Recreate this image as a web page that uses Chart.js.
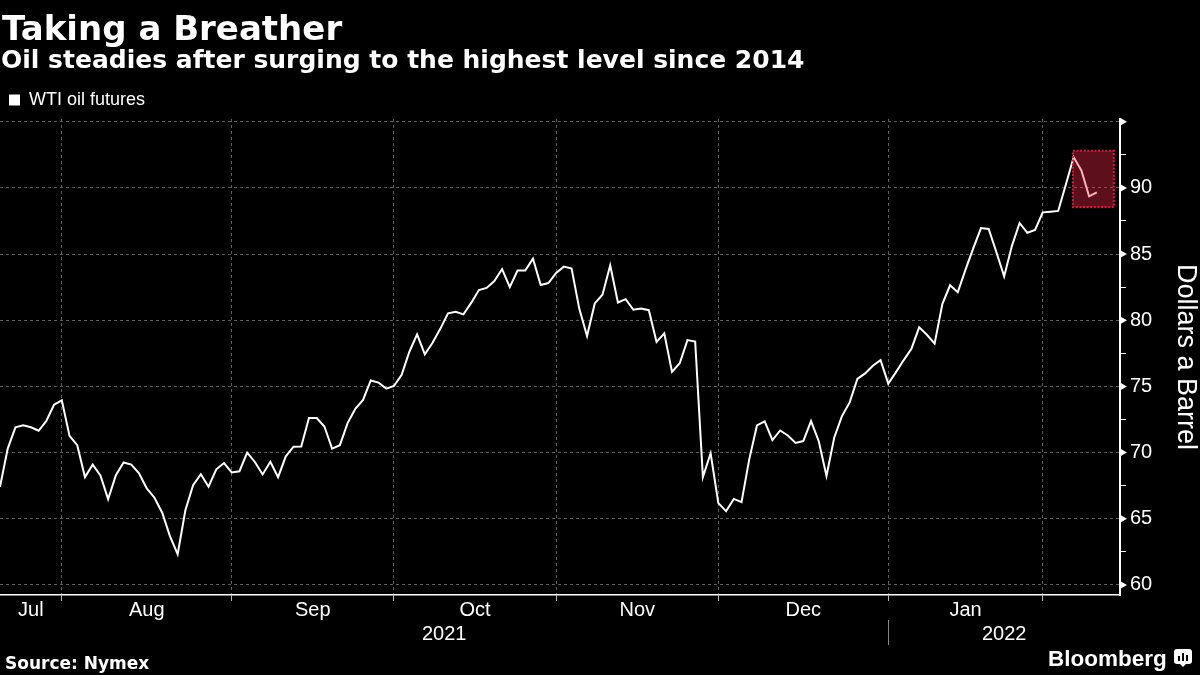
<!DOCTYPE html>
<html>
<head>
<meta charset="utf-8">
<script src="https://cdn.jsdelivr.net/npm/chart.js@4.4.1/dist/chart.umd.min.js"></script>
<style>
    html, body { margin: 0; padding: 0; background: #000; }
    #wrap { position: relative; width: 1200px; height: 675px; overflow: hidden; background: #000; }
    #chart { position: absolute; left: 0; top: 0; }
    .txt { position: absolute; color: #fff; white-space: nowrap; line-height: 1; }
    #title { left: 2px; top: 8px; font: bold 34px "DejaVu Sans", sans-serif; }
    #subtitle { left: 1px; top: 45px; font: bold 25px "DejaVu Sans", sans-serif; }
    #source { left: 5px; top: 653px; font: bold 17px "DejaVu Sans", sans-serif; }
    #brand { left: 1048px; top: 646px; font: bold 22.5px "Liberation Sans", Arial, sans-serif; }
    #logo { position: absolute; left: 1174px; top: 649px; width: 18px; height: 15px; background: #fff; border-radius: 3px; }
    #logo span { position: absolute; bottom: 3px; width: 2px; background: #000; }
    #logo:after { content: ""; position: absolute; left: 6px; top: 15px; border-left: 3px solid transparent; border-right: 3px solid transparent; border-top: 3px solid #fff; }
</style>
</head>
<body>
<div id="wrap">
    <canvas id="chart" width="1200" height="675"></canvas>
    <div class="txt" id="title">Taking a Breather</div>
    <div class="txt" id="subtitle">Oil steadies after surging to the highest level since 2014</div>
    <div class="txt" id="source">Source: Nymex</div>
    <div class="txt" id="brand">Bloomberg</div>
    <div id="logo"><span style="left:4px;height:5px"></span><span style="left:8px;height:8px"></span><span style="left:12px;height:6px"></span></div>
</div>
<script>
// WTI front-month settlements, trading days Jul 20 2021 - Feb 9 2022
const dates = [
    "2021-07-20", "2021-07-21", "2021-07-22", "2021-07-23", "2021-07-26", "2021-07-27", "2021-07-28", "2021-07-29", "2021-07-30",
    "2021-08-02", "2021-08-03", "2021-08-04", "2021-08-05", "2021-08-06", "2021-08-09", "2021-08-10", "2021-08-11", "2021-08-12",
    "2021-08-13", "2021-08-16", "2021-08-17", "2021-08-18", "2021-08-19", "2021-08-20", "2021-08-23", "2021-08-24", "2021-08-25",
    "2021-08-26", "2021-08-27", "2021-08-30", "2021-08-31",
    "2021-09-01", "2021-09-02", "2021-09-03", "2021-09-07", "2021-09-08", "2021-09-09", "2021-09-10", "2021-09-13", "2021-09-14",
    "2021-09-15", "2021-09-16", "2021-09-17", "2021-09-20", "2021-09-21", "2021-09-22", "2021-09-23", "2021-09-24", "2021-09-27",
    "2021-09-28", "2021-09-29", "2021-09-30",
    "2021-10-01", "2021-10-04", "2021-10-05", "2021-10-06", "2021-10-07", "2021-10-08", "2021-10-11", "2021-10-12", "2021-10-13",
    "2021-10-14", "2021-10-15", "2021-10-18", "2021-10-19", "2021-10-20", "2021-10-21", "2021-10-22", "2021-10-25", "2021-10-26",
    "2021-10-27", "2021-10-28", "2021-10-29",
    "2021-11-01", "2021-11-02", "2021-11-03", "2021-11-04", "2021-11-05", "2021-11-08", "2021-11-09", "2021-11-10", "2021-11-11",
    "2021-11-12", "2021-11-15", "2021-11-16", "2021-11-17", "2021-11-18", "2021-11-19", "2021-11-22", "2021-11-23", "2021-11-24",
    "2021-11-26", "2021-11-29", "2021-11-30",
    "2021-12-01", "2021-12-02", "2021-12-03", "2021-12-06", "2021-12-07", "2021-12-08", "2021-12-09", "2021-12-10", "2021-12-13",
    "2021-12-14", "2021-12-15", "2021-12-16", "2021-12-17", "2021-12-20", "2021-12-21", "2021-12-22", "2021-12-23", "2021-12-27",
    "2021-12-28", "2021-12-29", "2021-12-30", "2021-12-31",
    "2022-01-03", "2022-01-04", "2022-01-05", "2022-01-06", "2022-01-07", "2022-01-10", "2022-01-11", "2022-01-12", "2022-01-13",
    "2022-01-14", "2022-01-18", "2022-01-19", "2022-01-20", "2022-01-21", "2022-01-24", "2022-01-25", "2022-01-26", "2022-01-27",
    "2022-01-28", "2022-01-31",
    "2022-02-01", "2022-02-02", "2022-02-03", "2022-02-04", "2022-02-07", "2022-02-08", "2022-02-09",
];

const wtiFutures = [
    67.42, 70.30, 71.91, 72.07, 71.91, 71.65, 72.39, 73.62, 73.95,
    71.26, 70.56, 68.15, 69.09, 68.28, 66.48, 68.29, 69.25, 69.09, 68.44, 67.29, 66.59, 65.46, 63.69, 62.32,
    65.64, 67.54, 68.36, 67.42, 68.74, 69.21, 68.50,
    68.59, 69.99, 69.29, 68.35, 69.30, 68.14, 69.72, 70.45, 70.46, 72.61, 72.61, 71.97, 70.29, 70.56, 72.23,
    73.30, 73.98, 75.45, 75.29, 74.83, 75.03,
    75.88, 77.62, 78.93, 77.43, 78.30, 79.35, 80.52, 80.64, 80.44, 81.31, 82.28, 82.44, 82.96, 83.87, 82.50,
    83.76, 83.76, 84.65, 82.66, 82.81, 83.57,
    84.05, 83.91, 80.86, 78.81, 81.27, 81.93, 84.15, 81.34, 81.59, 80.79, 80.88, 80.76, 78.36, 79.01, 76.10,
    76.75, 78.50, 78.39, 68.15, 69.95, 66.18,
    65.57, 66.50, 66.26, 69.49, 72.05, 72.36, 70.94, 71.67, 71.29, 70.73, 70.87, 72.38, 70.86, 68.23, 71.12,
    72.76, 73.79, 75.57, 75.98, 76.56, 76.99, 75.21,
    76.08, 76.99, 77.85, 79.46, 78.90, 78.23, 81.22, 82.64, 82.12, 83.82, 85.43, 86.96, 86.90, 85.14, 83.31,
    85.60, 87.35, 86.61, 86.82, 88.15,
    88.20, 88.26, 90.27, 92.31, 91.32, 89.36, 89.66,
];

const monthLabels = ["Jul", "Aug", "Sep", "Oct", "Nov", "Dec", "Jan"];
const yearLabels = ["2021", "2022"];
const yTicks = [60, 62.5, 65, 67.5, 70, 72.5, 75, 77.5, 80, 82.5, 85, 87.5, 90, 92.5, 95];

// the "breather" highlight: x in trading-day index, y in dollars
const highlight = { from: 138.9, to: 144.2, low: 88.55, high: 92.8 };

const xMax = 145;

// last trading day of each month -> gridlines
const monthEnds = [];
for (let i = 0; i < dates.length - 1; i++) {
    if (dates[i].slice(5, 7) !== dates[i + 1].slice(5, 7)) monthEnds.push(i);
}
const monthMids = monthLabels.map((m, i) => ((i === 0 ? 0 : monthEnds[i - 1]) + monthEnds[i]) / 2);
const yearEnd = monthEnds.find((i) => dates[i].slice(0, 4) !== dates[i + 1].slice(0, 4));
const yearMids = [yearEnd / 2, (yearEnd + xMax) / 2];

const gridGrey = "#5c5c5c";

Chart.defaults.font.family = "'Liberation Sans', Arial, sans-serif";
Chart.defaults.color = "#fff";

const canvas = document.getElementById("chart");

const chart = new Chart(canvas, {
    type: "line",
    data: {
        datasets: [
            {
                label: "WTI oil futures",
                data: wtiFutures.map((v, i) => ({ x: i, y: v })),
                borderColor: "#fff",
                backgroundColor: "#fff",
                borderWidth: 2,
                pointRadius: 0,
                tension: 0,
            },
        ],
    },
    options: {
        responsive: false,
        animation: false,
        events: [],
        layout: { padding: { top: 82, left: 0, right: 0, bottom: 0 } },
        scales: {
            x: {
                type: "linear",
                position: "bottom",
                weight: 0,
                min: 0,
                max: xMax,
                afterBuildTicks: (s) => { s.ticks = monthEnds.map((v) => ({ value: v })); },
                afterFit: (s) => { s.height = 3; },
                ticks: { display: false },
                grid: { color: gridGrey, lineWidth: 1, tickLength: 6, tickColor: "#bbb" },
                border: { color: "#fff", width: 1.5, dash: [3, 3] },
            },
            xm: {
                type: "linear",
                axis: "x",
                position: "bottom",
                weight: 1,
                min: 0,
                max: xMax,
                afterBuildTicks: (s) => { s.ticks = monthMids.map((v) => ({ value: v })); },
                afterFit: (s) => { s.height = 24; },
                ticks: {
                    autoSkip: false,
                    maxRotation: 0,
                    padding: 0,
                    font: { size: 20 },
                    callback: (v, i) => monthLabels[i],
                },
                grid: { display: false, drawTicks: false },
                border: { display: false },
            },
            xy: {
                type: "linear",
                axis: "x",
                position: "bottom",
                weight: 2,
                min: 0,
                max: xMax,
                afterBuildTicks: (s) => { s.ticks = yearMids.map((v) => ({ value: v })); },
                afterFit: (s) => { s.height = 53; },
                ticks: {
                    autoSkip: false,
                    maxRotation: 0,
                    padding: 0,
                    font: { size: 20 },
                    callback: (v, i) => yearLabels[i],
                },
                grid: { display: false, drawTicks: false },
                border: { display: false },
            },
            y: {
                type: "linear",
                position: "right",
                min: 59.24,
                max: 95.204,
                afterBuildTicks: (s) => { s.ticks = yTicks.map((v) => ({ value: v })); },
                afterFit: (s) => { s.width = 80; },
                ticks: {
                    padding: 4,
                    font: { size: 20 },
                    callback: (v) => (v % 5 === 0 && v !== 95 ? v : ""),
                },
                grid: {
                    lineWidth: 1,
                    tickLength: 6,
                    color: (ctx) => (ctx.tick && ctx.tick.value % 5 === 0 ? gridGrey : "rgba(0,0,0,0)"),
                    tickColor: (ctx) => (ctx.tick && ctx.tick.value % 5 === 0 ? "rgba(0,0,0,0)" : "#fff"),
                },
                border: { color: "#fff", width: 2, dash: [3, 3] },
                title: {
                    display: true,
                    text: "Dollars a Barrel",
                    font: { size: 27 },
                    padding: { top: -2, bottom: 0 },
                },
            },
        },
        plugins: {
            legend: {
                display: true,
                position: "top",
                align: "start",
                labels: {
                    boxWidth: 11,
                    boxHeight: 11,
                    padding: 9,
                    font: { size: 18 },
                    color: "#fff",
                    generateLabels: (c) =>
                        Chart.defaults.plugins.legend.labels.generateLabels(c).map((l) => ({ ...l, lineWidth: 0 })),
                },
            },
            tooltip: { enabled: false },
        },
    },
    plugins: [
        {
            id: "breatherBox",
            afterDatasetsDraw(chart) {
                const { ctx, scales } = chart;
                const x1 = scales.x.getPixelForValue(highlight.from);
                const x2 = scales.x.getPixelForValue(highlight.to);
                const y1 = scales.y.getPixelForValue(highlight.high);
                const y2 = scales.y.getPixelForValue(highlight.low);
                ctx.save();
                ctx.fillStyle = "rgba(255, 40, 75, 0.37)";
                ctx.fillRect(x1, y1, x2 - x1, y2 - y1);
                ctx.strokeStyle = "#e8143e";
                ctx.lineWidth = 2;
                ctx.setLineDash([2, 1.6]);
                ctx.strokeRect(x1, y1, x2 - x1, y2 - y1);
                ctx.restore();
            },
        },
        {
            id: "axisMarks",
            afterDraw(chart) {
                const { ctx, scales, chartArea } = chart;
                ctx.save();
                // arrow heads on the major y ticks
                ctx.fillStyle = "#fff";
                yTicks.filter((v) => v % 5 === 0).forEach((v) => {
                    const y = scales.y.getPixelForValue(v);
                    ctx.beginPath();
                    ctx.moveTo(chartArea.right, y - 4);
                    ctx.lineTo(chartArea.right + 7, y);
                    ctx.lineTo(chartArea.right, y + 4);
                    ctx.closePath();
                    ctx.fill();
                });
                // divider between the years
                const sx = Math.round(scales.x.getPixelForValue(yearEnd)) + 0.5;
                ctx.strokeStyle = "#888";
                ctx.lineWidth = 1;
                ctx.beginPath();
                ctx.moveTo(sx, 620);
                ctx.lineTo(sx, 645);
                ctx.stroke();
                ctx.restore();
            },
        },
    ],
});
</script>
</body>
</html>
